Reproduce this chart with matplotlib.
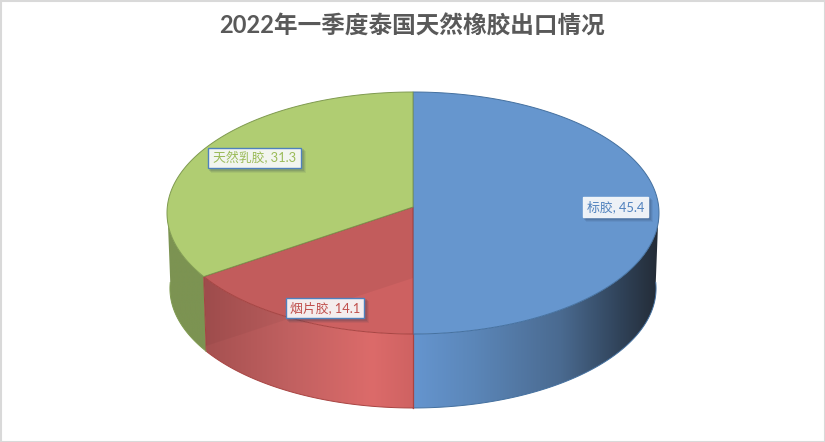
import numpy as np
import matplotlib
matplotlib.use("Agg")
import matplotlib.pyplot as plt
from matplotlib.colors import LinearSegmentedColormap
from matplotlib.patches import Polygon, Rectangle

plt.rcParams["font.family"] = ["Lato", "Noto Sans CJK SC", "DejaVu Sans"]

title = "2022年一季度泰国天然橡胶出口情况"
names = ["标胶", "烟片胶", "天然乳胶"]
values = [45.4, 14.1, 31.3]

top_colors = ["#6696ce", "#cd6161", "#b0cd72"]
edge_colors = ["#44709f", "#a84442", "#7f9a50"]
text_colors = ["#4f81bd", "#c0504d", "#9bbb59"]
border_colors = ["#eef3f8", "#4f81bd", "#4f81bd"]
side_stops = [
    [(0.0, "#6595cf"), (0.25, "#5b86b8"), (0.6, "#4a6a90"), (0.85, "#2f4157"), (1.0, "#232b35")],
    [(0.0, "#a55050"), (0.4, "#c06060"), (0.8, "#dc6b6a"), (1.0, "#cf6262")],
    [(0.0, "#7c9352"), (1.0, "#7c9352")],
]
label_boxes = [(583, 197, 65, 20), (286, 298, 78, 20), (208, 148, 93, 20)]

# pie geometry in pixels, slight perspective so the centre sits above the ellipse middle
cx, cy = 413, 207
rx, ry = 245.7, 120.7
k = 0.0496
shrink = 0.988
bottom_cy = 282.5


def top_xy(t):
    w = 1 + k * np.sin(t)
    return cx + rx * np.cos(t) / w, cy - ry * np.sin(t) / w


def bottom_xy(t):
    w = 1 + k * np.sin(t)
    return cx + shrink * rx * np.cos(t) / w, bottom_cy - shrink * ry * np.sin(t) / w


fig = plt.figure(figsize=(8.25, 4.42), dpi=100)
ax = fig.add_axes([0, 0, 1, 1])

# angles clockwise from 12 o'clock
frac = np.cumsum([0] + values) / sum(values)
angles = np.pi / 2 - 2 * np.pi * frac

# side walls: only the front half can be seen
for i in range(3):
    a1 = min(angles[i], 0)
    a2 = max(angles[i + 1], -np.pi)
    ts = np.linspace(a1, a2, 120)
    tx, ty = top_xy(ts)
    bx, by = bottom_xy(ts)
    pts = np.r_[np.c_[tx, ty], np.c_[bx, by][::-1]]
    poly = Polygon(pts, closed=True, fc="none", ec="none", zorder=2)
    ax.add_patch(poly)
    x0, x1 = pts[:, 0].min(), pts[:, 0].max()
    cmap = LinearSegmentedColormap.from_list("side", side_stops[i])
    img = ax.imshow(
        np.linspace(0, 1, 256)[None, :],
        extent=(x0, x1, 420, 200),
        cmap=cmap,
        aspect="auto",
        zorder=2,
    )
    img.set_clip_path(poly)
    ax.plot(bx, by, color=edge_colors[i], lw=0.7, zorder=3)
    # seams between the slices on the wall
    if i == 1:
        ax.plot([tx[0], bx[0]], [ty[0], by[0]], color=edge_colors[1], lw=0.9, zorder=3)
        ax.plot([tx[-1], bx[-1]], [ty[-1], by[-1]], color=edge_colors[1], lw=0.7, zorder=3)
        # darker band of the red wall, see through effect
        shade = Polygon([(413, 278), (203, 347), (190, 200), (413, 200)], fc="#000000", alpha=0.04, ec="none", zorder=3)
        ax.add_patch(shade)
        shade.set_clip_path(poly)

# top faces
for i in range(3):
    ts = np.linspace(angles[i], angles[i + 1], 200)
    tx, ty = top_xy(ts)
    pts = np.r_[[[cx, cy]], np.c_[tx, ty]]
    face = Polygon(pts, closed=True, fc=top_colors[i], ec=edge_colors[i], lw=0.7, zorder=4 + (i == 0) * -0.5)
    ax.add_patch(face)
    if i == 1:
        shade = Polygon([(413, 278), (203, 347), (190, 200), (413, 200)], fc="#000000", alpha=0.05, ec="none", zorder=5)
        ax.add_patch(shade)
        shade.set_clip_path(face)

# data labels with soft shadow
for i, (x, y, w, h) in enumerate(label_boxes):
    for off, alpha in ((4, 0.08), (3, 0.11), (2, 0.14)):
        ax.add_patch(Rectangle((x + off - 1, y + off - 1), w + 2, h + 2, fc="#2a3a50", ec="none", alpha=alpha, zorder=6))
    ax.add_patch(Rectangle((x, y), w, h, fc="#ffffff", alpha=0.9, ec="none", zorder=7))
    ax.add_patch(Rectangle((x, y), w, h, fc="none", ec=border_colors[i], lw=1, zorder=8))
    ax.text(x + w / 2, y + h / 2, f"{names[i]}, {values[i]}", color=text_colors[i],
            fontsize=9.3, ha="center", va="center", zorder=9)

ax.text(412, 26, title, color="#595959", fontsize=17, fontweight="bold", ha="center", va="center")

ax.set_xlim(0, 825)
ax.set_ylim(442, 0)
ax.axis("off")

# chart frame
ax.add_patch(Rectangle((0.5, 0.5), 824, 441, fc="none", ec="#d9d9d9", lw=1.5, zorder=10))

fig.savefig("out.png", dpi=100)
